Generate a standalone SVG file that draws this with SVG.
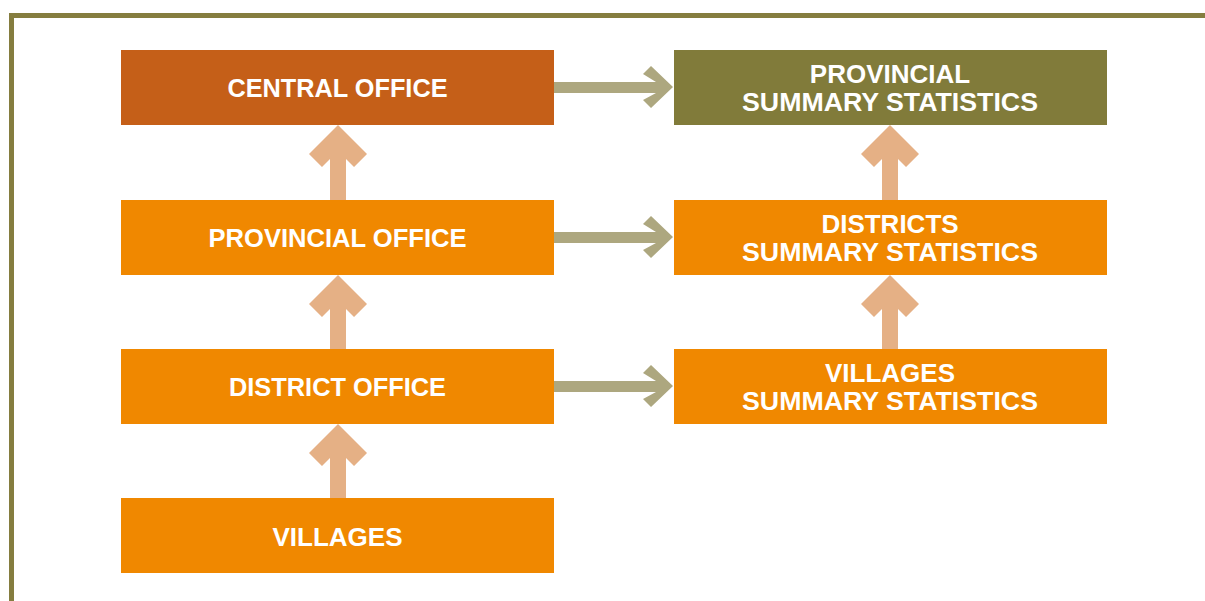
<svg xmlns="http://www.w3.org/2000/svg" width="1205" height="601" viewBox="0 0 1205 601">
<defs>
<style>
.box{stroke:none}
.t{font-family:"Liberation Sans",Arial,sans-serif;font-weight:bold;font-size:26px;fill:#ffffff;text-anchor:middle}
.up{fill:#E5B085}
.right{fill:#ADA77F}
</style>
<polygon id="upArrow" points="0,0 29,29 16,42 8,34 8,75 -8,75 -8,34 -16,42 -29,29"/>
</defs>
<rect x="0" y="0" width="1205" height="601" fill="#ffffff"/>
<path d="M11.5,601 V15.5 H1205" fill="none" stroke="#857D3F" stroke-width="5"/>
<g id="connectors">
<use href="#upArrow" class="up" x="338" y="125"/>
<use href="#upArrow" class="up" x="338" y="275"/>
<use href="#upArrow" class="up" x="338" y="424"/>
<use href="#upArrow" class="up" x="890" y="125"/>
<use href="#upArrow" class="up" x="890" y="275"/>
<polygon class="right" points="554,82 656,82 643,74 651,66 673,87 651,108 643,100 656,93 554,93"/>
<polygon class="right" points="554,232 656,232 643,224 651,216 673,237 651,258 643,250 656,243 554,243"/>
<polygon class="right" points="554,381 656,381 643,373 651,365 673,386 651,407 643,399 656,392 554,392"/>
</g>
<g id="central-office"><rect class="box" x="121" y="50" width="433" height="75" fill="#C55F18"/><text class="t" x="337.5" y="96.5" textLength="220" lengthAdjust="spacingAndGlyphs">CENTRAL OFFICE</text></g>
<g id="provincial-office"><rect class="box" x="121" y="200" width="433" height="75" fill="#F08800"/><text class="t" x="337.5" y="246.5" textLength="258" lengthAdjust="spacingAndGlyphs">PROVINCIAL OFFICE</text></g>
<g id="district-office"><rect class="box" x="121" y="349" width="433" height="75" fill="#F08800"/><text class="t" x="337.5" y="395.5" textLength="217" lengthAdjust="spacingAndGlyphs">DISTRICT OFFICE</text></g>
<g id="villages"><rect class="box" x="121" y="498" width="433" height="75" fill="#F08800"/><text class="t" x="337.5" y="545.5">VILLAGES</text></g>
<g id="provincial-summary"><rect class="box" x="674" y="50" width="433" height="75" fill="#817B3A"/><text class="t" x="890" y="82.5">PROVINCIAL</text><text class="t" x="890" y="111" textLength="296" lengthAdjust="spacingAndGlyphs">SUMMARY STATISTICS</text></g>
<g id="districts-summary"><rect class="box" x="674" y="200" width="433" height="75" fill="#F08800"/><text class="t" x="890" y="232.5">DISTRICTS</text><text class="t" x="890" y="261" textLength="296" lengthAdjust="spacingAndGlyphs">SUMMARY STATISTICS</text></g>
<g id="villages-summary"><rect class="box" x="674" y="349" width="433" height="75" fill="#F08800"/><text class="t" x="890" y="381.5">VILLAGES</text><text class="t" x="890" y="410" textLength="296" lengthAdjust="spacingAndGlyphs">SUMMARY STATISTICS</text></g>
</svg>
